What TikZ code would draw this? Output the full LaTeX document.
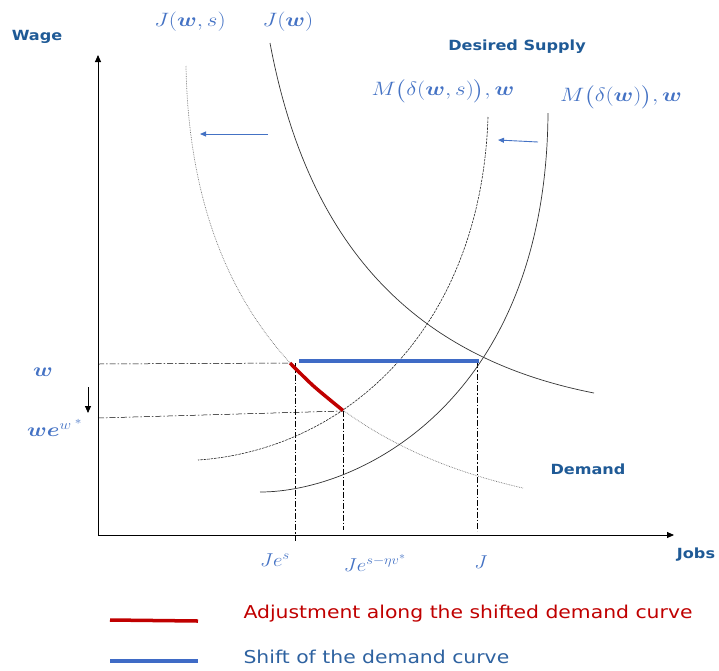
\documentclass[tikz,border=0pt]{standalone}
\usepackage{amsmath}
\usepackage{graphicx}
\usepackage{fontspec}
\usetikzlibrary{arrows.meta}
\newfontfamily\lblfont[FakeStretch=1.15]{DejaVu Sans}
\definecolor{mathblue}{HTML}{4472C4}
\definecolor{darkblue}{HTML}{1F5A96}
\definecolor{legblue}{HTML}{2E62A0}
\definecolor{adjred}{HTML}{C00000}
\definecolor{shiftblue}{HTML}{3F6BC6}
\newcommand{\mywide}[1]{\scalebox{1.33}[1.12]{#1}}
\newcommand{\myax}[1]{\scalebox{1.2}[1.08]{#1}}
\tikzset{
  axisline/.style={line width=0.9pt,-{Triangle[length=7pt,width=6pt]}},
  guide/.style={line width=0.5pt,dash pattern=on 6pt off 2pt on 1.5pt off 2pt},
  solidcurve/.style={line width=0.7pt,black!80},
  dotcurve/.style={line width=0.7pt,black!55,densely dotted},
  dashcurve/.style={line width=0.6pt,black!85,dash pattern=on 2.5pt off 1pt},
  shiftarr/.style={mathblue,line width=0.9pt,-{Triangle[length=6pt,width=5pt]}},
  boldlbl/.style={text=darkblue,font=\lblfont\bfseries\fontsize{14}{16}\selectfont},
  mathlbl/.style={text=mathblue,font=\fontsize{17.28}{20}\selectfont},
  leglbl/.style={anchor=west,font=\lblfont\fontsize{17.7}{20}\selectfont},
  thickred/.style={adjred,line width=3.5pt},
  thickblue/.style={shiftblue,line width=3.5pt}
}
\begin{document}
\begin{tikzpicture}[x=1pt,y=-1pt]
\useasboundingbox (0,0) rectangle (719,670);
% axes
\coordinate (O) at (98,535);
\coordinate (ytop) at (98,55);
\coordinate (xend) at (674,535);
\draw[axisline] (O) -- (ytop);
\draw[axisline] (O) -- (xend);
% labels
\node[boldlbl] (wage) at (37,37) {Wage};
\node[boldlbl] (dsup) at (517,47) {Desired Supply};
\node[boldlbl] (jobs) at (696,555) {Jobs};
\node[boldlbl] (demand) at (588,469) {Demand};
\node[mathlbl] (Jws) at (190,22) {\mywide{$J(\boldsymbol{w},s)$}};
\node[mathlbl] (Jw) at (288,22) {\mywide{$J(\boldsymbol{w})$}};
\node[mathlbl] (Mws) at (443,91) {\mywide{$M\big(\delta(\boldsymbol{w},s)\big),\boldsymbol{w}$}};
\node[mathlbl] (Mw) at (621,97) {\mywide{$M\big(\delta(\boldsymbol{w})\big),\boldsymbol{w}$}};
\node[mathlbl] (wlab) at (43,372) {\mywide{$\boldsymbol{w}$}};
\node[mathlbl] (welab) at (55,428) {\mywide{$\boldsymbol{we}^{w^{\;*}}$}};
\node[mathlbl] (Jes) at (275,560) {\myax{$Je^{s}$}};
\node[mathlbl] (Jesn) at (375,563) {\myax{$Je^{s-\eta v^{*}}$}};
\node[mathlbl] (Jlab) at (481,562) {\myax{$J$}};
% guide lines
\coordinate (gw0) at (98,364);
\coordinate (gw1) at (291,363);
\coordinate (ge0) at (98,418);
\coordinate (ge1) at (343,411);
\draw[guide] (gw0) -- (gw1);
\draw[guide] (ge0) -- (ge1);
\coordinate (v1t) at (295,363);
\coordinate (v1b) at (295,541);
\coordinate (v2t) at (343,411);
\coordinate (v2b) at (343,530);
\coordinate (v3t) at (477,362);
\coordinate (v3b) at (477,531);
\draw[guide] (v1t) -- (v1b);
\draw[guide] (v2t) -- (v2b);
\draw[guide] (v3t) -- (v3b);
% curves
\coordinate (jsA) at (186,66);
\coordinate (jsB) at (523,488);
\draw[dotcurve] (jsA) .. controls (190,300) and (310,440) .. (jsB);
\coordinate (jA) at (270,43);
\coordinate (jB) at (594,393);
\draw[solidcurve] (jA) .. controls (305,230) and (400,355) .. (jB);
\coordinate (msA) at (488,117);
\coordinate (msB) at (198,460);
\draw[dashcurve] (msA) .. controls (481,330) and (345,450) .. (msB);
\coordinate (mA) at (548,113);
\coordinate (mB) at (260,492);
\draw[solidcurve] (mA) .. controls (546,400) and (360,492) .. (mB);
% thick segments
\coordinate (r0) at (290,363);
\coordinate (r1) at (313.5,386);
\coordinate (r2) at (343,410.5);
\draw[thickred] plot[smooth] coordinates {(r0) (r1) (r2)};
\coordinate (bl) at (299,361);
\coordinate (br) at (479,361);
\draw[thickblue] (bl) -- (br);
% shift arrows
\coordinate (a1s) at (268,134);
\coordinate (a1e) at (200,134);
\coordinate (a2s) at (538,142);
\coordinate (a2e) at (498,140);
\draw[shiftarr] (a1s) -- (a1e);
\draw[shiftarr] (a2s) -- (a2e);
\coordinate (ds) at (88,387);
\coordinate (de) at (88,413);
\draw[line width=0.8pt,-{Triangle[length=7pt,width=6pt]}] (ds) -- (de);
% legend
\coordinate (lr0) at (110,620);
\coordinate (lr1) at (198,621);
\coordinate (lb0) at (110,661);
\coordinate (lb1) at (198,661);
\draw[thickred] (lr0) -- (lr1);
\draw[thickblue] (lb0) -- (lb1);
\node[leglbl,text=adjred] (leg1) at (240,614) {Adjustment along the shifted demand curve};
\node[leglbl,text=legblue] (leg2) at (240,657) {Shift of the demand curve};
\end{tikzpicture}
\end{document}
